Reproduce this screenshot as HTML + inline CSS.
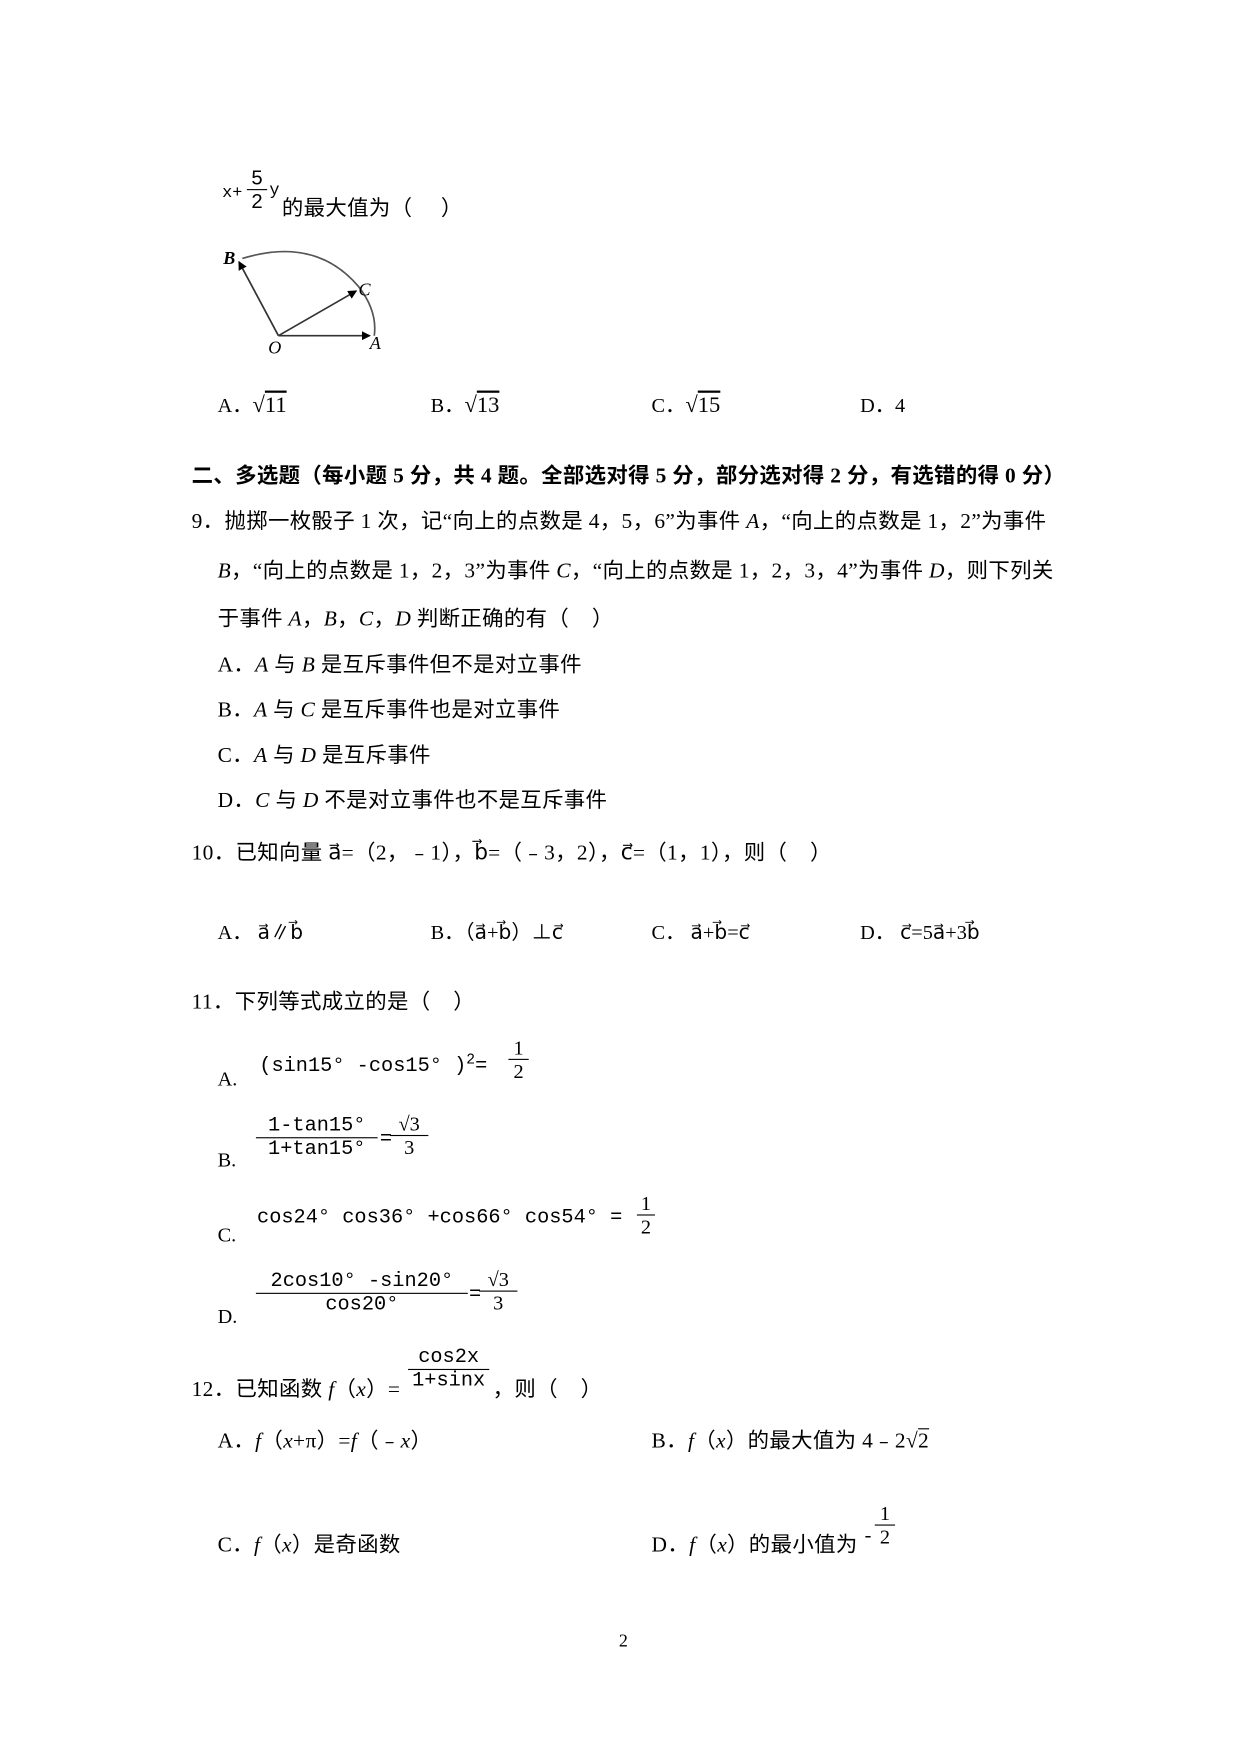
<!DOCTYPE html>
<html><head><meta charset="utf-8"><style>
html,body{margin:0;padding:0;background:#fff;width:1240px;height:1754px;overflow:hidden}
#w{position:absolute;left:0;top:0;width:1100px;height:1556px;transform:translateY(1px) scale(1.12727,1.1194);transform-origin:0 0;font-family:"Liberation Serif","Noto Sans CJK SC",serif;color:#000}
.t{position:absolute;font-size:18px;line-height:20px;white-space:nowrap}
.s{font-family:"Liberation Serif","Noto Sans CJK SC",serif;font-size:19px;letter-spacing:0.3px}
.m{font-family:"Liberation Mono","DejaVu Sans Mono",monospace;font-size:18px}
i{font-style:italic}
.fr{position:absolute;text-align:center;line-height:20px;font-size:18px}
.fr .n{border-bottom:1px solid #000}
</style></head><body><div id="w">

<div class="t m" style="left:197px;top:162px;font-size:15px">x+</div>
<div class="fr" style="left:219px;top:148px;width:18px;font-family:'Liberation Sans',sans-serif"><div class="n">5</div><div>2</div></div>
<div class="t m" style="left:239px;top:160px;font-size:15px">y</div>
<div class="t s" style="left:250px;top:176px">的最大值为（&nbsp;&nbsp;&nbsp;&nbsp;&nbsp;）</div>

<svg style="position:absolute;left:190px;top:215px" width="170" height="100">
<defs><marker id="ar" markerWidth="8" markerHeight="8" refX="7" refY="4" orient="auto" markerUnits="userSpaceOnUse"><path d="M0,0 L8,4 L0,8 z" fill="#000"/></marker></defs>
<path d="M25,15 Q90,-5 128,40 Q145,62 142,84" fill="none" stroke="#555" stroke-width="1.5"/>
<line x1="57" y1="84" x2="138" y2="84" stroke="#333" stroke-width="1.5" marker-end="url(#ar)"/>
<line x1="57" y1="84" x2="126" y2="44" stroke="#333" stroke-width="1.5" marker-end="url(#ar)"/>
<line x1="57" y1="84" x2="22" y2="18" stroke="#333" stroke-width="1.5" marker-end="url(#ar)"/>
<text x="8" y="20" font-family="Liberation Serif" font-style="italic" font-weight="bold" font-size="16">B</text>
<text x="128" y="48" font-family="Liberation Serif" font-style="italic" font-size="16">C</text>
<text x="138" y="96" font-family="Liberation Serif" font-style="italic" font-size="16">A</text>
<text x="48" y="100" font-family="Liberation Serif" font-style="italic" font-size="16">O</text>
</svg>

<div class="t" style="left:193px;top:351px">A．<span style="font-size:20px">√<span style="text-decoration:overline">11</span></span></div>
<div class="t" style="left:382px;top:351px">B．<span style="font-size:20px">√<span style="text-decoration:overline">13</span></span></div>
<div class="t" style="left:578px;top:351px">C．<span style="font-size:20px">√<span style="text-decoration:overline">15</span></span></div>
<div class="t" style="left:763px;top:351px">D．4</div>

<div class="t s" style="left:170px;top:415px;font-weight:bold">二、多选题（每小题 5 分，共 4 题。全部选对得 5 分，部分选对得 2 分，有选错的得 0 分）</div>
<div class="t s" style="left:170px;top:456px">9．抛掷一枚骰子 1 次，记“向上的点数是 4，5，6”为事件 <i>A</i>，“向上的点数是 1，2”为事件</div>
<div class="t s" style="left:193px;top:500px"><i>B</i>，“向上的点数是 1，2，3”为事件 <i>C</i>，“向上的点数是 1，2，3，4”为事件 <i>D</i>，则下列关</div>
<div class="t s" style="left:193px;top:543px">于事件 <i>A</i>，<i>B</i>，<i>C</i>，<i>D</i> 判断正确的有（&nbsp;&nbsp;&nbsp;&nbsp;）</div>
<div class="t s" style="left:193px;top:584px">A．<i>A</i> 与 <i>B</i> 是互斥事件但不是对立事件</div>
<div class="t s" style="left:193px;top:624px">B．<i>A</i> 与 <i>C</i> 是互斥事件也是对立事件</div>
<div class="t s" style="left:193px;top:665px">C．<i>A</i> 与 <i>D</i> 是互斥事件</div>
<div class="t s" style="left:193px;top:705px">D．<i>C</i> 与 <i>D</i> 不是对立事件也不是互斥事件</div>

<div class="t s" style="left:170px;top:752px">10．已知向量 a⃗=（2，﹣1），b⃗=（﹣3，2），c⃗=（1，1），则（&nbsp;&nbsp;&nbsp;&nbsp;）</div>
<div class="t" style="left:193px;top:822px">A．&nbsp;a⃗∥b⃗</div>
<div class="t" style="left:382px;top:822px">B．（a⃗+b⃗）⊥c⃗</div>
<div class="t" style="left:578px;top:822px">C．&nbsp;a⃗+b⃗=c⃗</div>
<div class="t" style="left:763px;top:822px">D．&nbsp;c⃗=5a⃗+3b⃗</div>

<div class="t s" style="left:170px;top:885px">11．下列等式成立的是（&nbsp;&nbsp;&nbsp;&nbsp;）</div>
<div class="t" style="left:193px;top:953px">A.</div>
<div class="t m" style="left:230px;top:936px">(sin15° -cos15° )<sup style="font-size:13px">2</sup>=</div>
<div class="fr" style="left:451px;top:925px;width:18px"><div class="n">1</div><div>2</div></div>
<div class="t" style="left:193px;top:1025px">B.</div>
<div class="fr m" style="left:227px;top:995px;width:108px"><div class="n">1-tan15°</div><div>1+tan15°</div></div>
<div class="t m" style="left:337px;top:1007px">=</div>
<div class="fr" style="left:346px;top:993px;width:34px"><div class="n">√3</div><div>3</div></div>
<div class="t" style="left:193px;top:1092px">C.</div>
<div class="t m" style="left:228px;top:1077px">cos24° cos36° +cos66° cos54° =</div>
<div class="fr" style="left:565px;top:1064px;width:16px"><div class="n">1</div><div>2</div></div>
<div class="t" style="left:193px;top:1165px">D.</div>
<div class="fr m" style="left:227px;top:1134px;width:188px"><div class="n">2cos10° -sin20°</div><div>cos20°</div></div>
<div class="t m" style="left:416px;top:1146px">=</div>
<div class="fr" style="left:425px;top:1132px;width:34px"><div class="n">√3</div><div>3</div></div>

<div class="t s" style="left:170px;top:1231px">12．已知函数 <i>f</i>（<i>x</i>）=</div>
<div class="fr m" style="left:362px;top:1202px;width:72px"><div class="n">cos2x</div><div>1+sinx</div></div>
<div class="t s" style="left:437px;top:1231px">，则（&nbsp;&nbsp;&nbsp;&nbsp;）</div>
<div class="t s" style="left:193px;top:1277px">A．<i>f</i>（<i>x</i>+π）=<i>f</i>（﹣<i>x</i>）</div>
<div class="t s" style="left:578px;top:1277px">B．<i>f</i>（<i>x</i>）的最大值为 4﹣2√<span style="text-decoration:overline">2</span></div>
<div class="t s" style="left:193px;top:1370px">C．<i>f</i>（<i>x</i>）是奇函数</div>
<div class="t s" style="left:578px;top:1370px">D．<i>f</i>（<i>x</i>）的最小值为</div>
<div class="t" style="left:767px;top:1360px">-</div>
<div class="fr" style="left:776px;top:1341px;width:18px"><div class="n">1</div><div>2</div></div>

<div class="t" style="left:549px;top:1456px;font-size:16px">2</div>
</div></body></html>
